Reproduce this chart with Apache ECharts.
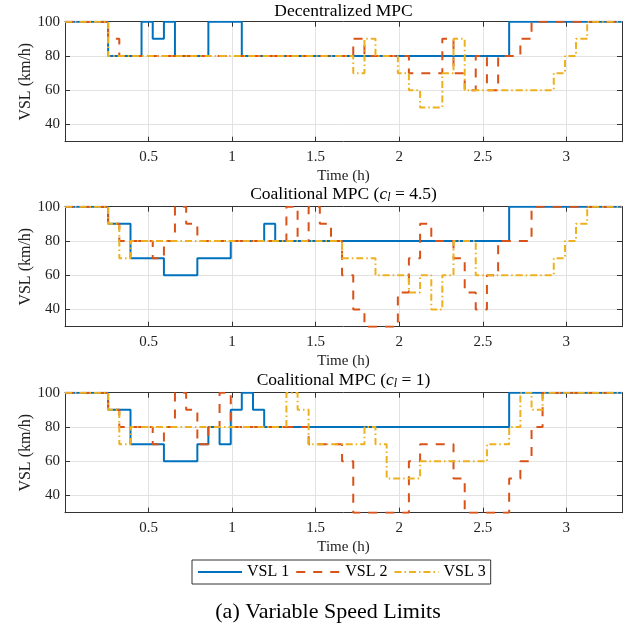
<!DOCTYPE html>
<html>
<head>
<meta charset="utf-8">
<script src="https://cdn.jsdelivr.net/npm/echarts@6/dist/echarts.min.js"></script>
<style>
html,body{margin:0;padding:0;background:#fff;}
#chart{width:632px;height:632px;}
</style>
</head>
<body>
<div id="chart"></div>
<script>
// Axis ticks and labels
const xTicks = [0.5, 1, 1.5, 2, 2.5, 3];
const yTicks = [40, 60, 80, 100];
const timeMax = 3.3333;

const seriesNames = ['VSL 1', 'VSL 2', 'VSL 3'];
const panelTitles = ['Decentralized MPC', 'Coalitional MPC ({i|c}{sub|l} = 4.5)', 'Coalitional MPC ({i|c}{sub|l} = 1)'];

// Speed limit breakpoints [time (h), limit (km/h)], held until the next breakpoint
// Decentralized MPC
const decVsl1 = [[0,100],[0.258,80],[0.458,100],[0.525,90],[0.592,100],[0.658,80],[0.858,100],[1.058,80],[2.658,100],[3.3333,100]];
const decVsl2 = [[0,100],[0.258,90],[0.325,80],[1.725,90],[1.792,80],[2.058,70],[2.258,90],[2.325,70],[2.392,60],[2.458,80],[2.525,60],[2.592,80],[2.725,90],[2.792,100],[3.3333,100]];
const decVsl3 = [[0,100],[0.258,80],[1.725,70],[1.792,90],[1.858,80],[1.992,70],[2.058,60],[2.125,50],[2.258,70],[2.325,90],[2.392,60],[2.925,70],[2.992,80],[3.058,90],[3.125,100],[3.3333,100]];

// Coalitional MPC, c_l = 4.5
const co45Vsl1 = [[0,100],[0.258,90],[0.392,70],[0.592,60],[0.792,70],[0.992,80],[1.192,90],[1.258,80],[2.658,100],[3.3333,100]];
const co45Vsl2 = [[0,100],[0.258,90],[0.325,80],[0.525,70],[0.592,80],[0.658,100],[0.725,90],[0.792,80],[1.325,100],[1.392,80],[1.458,100],[1.525,90],[1.592,80],[1.658,60],[1.725,40],[1.792,30],[1.992,50],[2.058,70],[2.125,90],[2.192,80],[2.325,70],[2.392,50],[2.458,40],[2.525,60],[2.592,80],[2.792,100],[3.3333,100]];
const co45Vsl3 = [[0,100],[0.258,90],[0.325,70],[0.392,80],[1.658,70],[1.858,60],[2.058,50],[2.125,60],[2.192,40],[2.258,60],[2.325,80],[2.458,60],[2.925,70],[2.992,80],[3.058,90],[3.125,100],[3.3333,100]];

// Coalitional MPC, c_l = 1
const co1Vsl1 = [[0,100],[0.258,90],[0.392,70],[0.592,60],[0.792,70],[0.858,80],[0.925,70],[0.992,90],[1.058,100],[1.125,90],[1.192,80],[2.658,100],[3.3333,100]];
const co1Vsl2 = [[0,100],[0.258,90],[0.325,80],[0.525,70],[0.592,80],[0.658,100],[0.725,90],[0.792,70],[0.858,80],[0.925,100],[0.992,80],[1.458,70],[1.658,60],[1.725,30],[2.058,60],[2.125,70],[2.325,50],[2.392,30],[2.658,50],[2.725,60],[2.792,80],[2.858,100],[3.3333,100]];
const co1Vsl3 = [[0,100],[0.258,90],[0.325,70],[0.392,80],[1.325,100],[1.392,90],[1.458,70],[1.792,80],[1.858,70],[1.925,50],[2.125,60],[2.525,70],[2.658,80],[2.725,100],[2.792,90],[2.858,100],[3.3333,100]];

const panels = [
  [decVsl1, decVsl2, decVsl3],
  [co45Vsl1, co45Vsl2, co45Vsl3],
  [co1Vsl1, co1Vsl2, co1Vsl3]
];

const FONT = 'Liberation Serif';
const AXIS_COLOR = '#333333';
const GRID_COLOR = '#e2e2e2';
const lineColors = ['#0072BD', '#D95319', '#EDB120'];
const lineDashes = ['solid', [9, 8], [7, 3, 1.5, 3]];

const plotLeft = 65, plotWidth = 557, plotHeight = 120;
const plotTops = [21.7, 206.7, 392.7];

const chart = echarts.init(document.getElementById('chart'), null, {renderer: 'canvas'});

const grids = plotTops.map(t => ({left: plotLeft, top: t, width: plotWidth, height: plotHeight}));

const xAxes = [], yAxes = [];
plotTops.forEach((t, i) => {
  xAxes.push({
    type: 'value', gridIndex: i, position: 'bottom', min: 0, max: timeMax, interval: 0.5,
    axisLine: {onZero: false, lineStyle: {color: AXIS_COLOR, width: 1}},
    axisTick: {inside: true, length: 5, customValues: xTicks, lineStyle: {color: AXIS_COLOR}},
    axisLabel: {customValues: xTicks, margin: 8, color: '#222', fontFamily: FONT, fontSize: 15},
    splitLine: {show: true, lineStyle: {color: GRID_COLOR, width: 1}},
    name: 'Time (h)', nameLocation: 'middle', nameGap: 27, nameMoveOverlap: false,
    nameTextStyle: {color: '#222', fontFamily: FONT, fontSize: 15}
  });
  yAxes.push({
    type: 'value', gridIndex: i, position: 'left', min: 30, max: 100,
    axisLine: {onZero: false, lineStyle: {color: AXIS_COLOR, width: 1}},
    axisTick: {inside: true, length: 5, customValues: yTicks, lineStyle: {color: AXIS_COLOR}},
    axisLabel: {customValues: yTicks, margin: 5, color: '#222', fontFamily: FONT, fontSize: 15},
    splitLine: {show: true, lineStyle: {color: GRID_COLOR, width: 1}},
    name: 'VSL (km/h)', nameLocation: 'middle', nameGap: 31, nameMoveOverlap: false,
    nameTextStyle: {color: '#222', fontFamily: FONT, fontSize: 16}
  });
});
// Box edges (top and right) with inward ticks
plotTops.forEach((t, i) => {
  xAxes.push({
    type: 'value', gridIndex: i, position: 'top', min: 0, max: timeMax, interval: 0.5,
    axisLine: {onZero: false, lineStyle: {color: AXIS_COLOR, width: 1}},
    axisTick: {inside: true, length: 5, customValues: xTicks, lineStyle: {color: AXIS_COLOR}},
    axisLabel: {show: false}, splitLine: {show: false}
  });
  yAxes.push({
    type: 'value', gridIndex: i, position: 'right', min: 30, max: 100,
    axisLine: {onZero: false, lineStyle: {color: AXIS_COLOR, width: 1}},
    axisTick: {inside: true, length: 5, customValues: yTicks, lineStyle: {color: AXIS_COLOR}},
    axisLabel: {show: false}, splitLine: {show: false}
  });
});

const series = [];
panels.forEach((panel, i) => {
  panel.forEach((data, j) => {
    series.push({
      type: 'line', name: seriesNames[j], xAxisIndex: i, yAxisIndex: i,
      data: data, step: 'end', symbol: 'none', showSymbol: false,
      lineStyle: {color: lineColors[j], width: 2, type: lineDashes[j]},
      itemStyle: {color: lineColors[j]},
      silent: true, animation: false, z: 2 + j
    });
  });
});

const richTitle = {
  i: {fontFamily: FONT, fontSize: 17.5, fontStyle: 'italic', fill: '#000'},
  sub: {fontFamily: FONT, fontSize: 12, fontStyle: 'italic', fill: '#000', padding: [7, 0, 0, 0]}
};
const titleY = [11, 194.5, 380];
const graphic = panelTitles.map((txt, i) => ({
  type: 'text', x: plotLeft + plotWidth / 2, y: titleY[i], silent: true,
  style: {text: txt, fontFamily: FONT, fontSize: 17.5, fill: '#000', align: 'center', verticalAlign: 'middle', rich: richTitle}
}));
graphic.push({
  type: 'text', x: 328, y: 612, silent: true,
  style: {text: '(a) Variable Speed Limits', fontFamily: FONT, fontSize: 22, fill: '#000', align: 'center', verticalAlign: 'middle'}
});

chart.setOption({
  animation: false,
  backgroundColor: '#fff',
  grid: grids,
  xAxis: xAxes,
  yAxis: yAxes,
  series: series,
  legend: {
    data: seriesNames, left: 192, top: 560, orient: 'horizontal',
    borderColor: '#333', borderWidth: 1, padding: [4, 5, 4, 5], itemGap: 6,
    itemWidth: 44, itemHeight: 12,
    itemStyle: {opacity: 0},
    textStyle: {fontFamily: FONT, fontSize: 16, color: '#000'}
  },
  graphic: graphic
});
</script>
</body>
</html>
